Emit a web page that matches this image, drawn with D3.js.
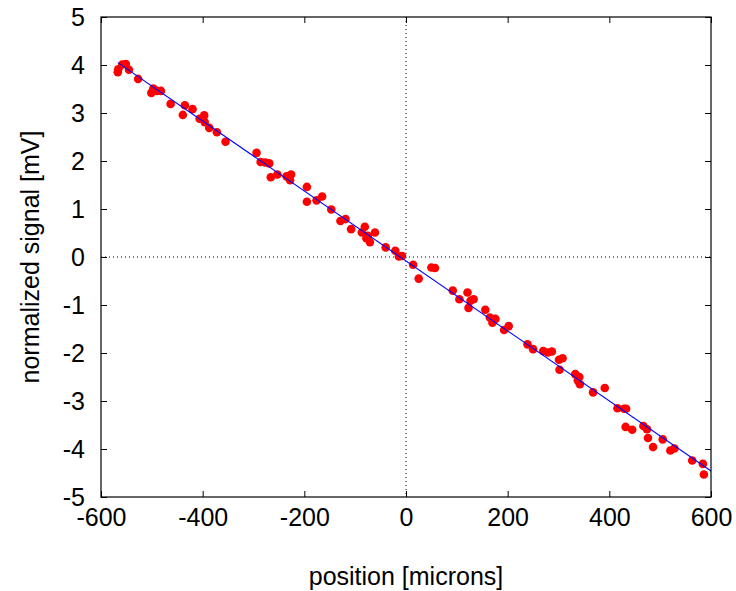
<!DOCTYPE html>
<html>
<head>
    <meta charset="utf-8">
    <title>normalized signal vs position</title>
    <style>
        body { margin: 0; background: #fff; }
        text { font-family: "Liberation Sans", Arial, sans-serif; fill: #000; }
    </style>
</head>
<body>
    <svg></svg>
    <script src="https://d3js.org/d3.v7.min.js"></script>
    <script>
        // measured points: position [microns]
        const posX = [
            -567, -566, -558, -551, -545, -527, -501, -497, -490, -482,
            -463, -439, -435, -420, -406, -397, -396, -387, -372, -355,
            -294, -286, -277, -269, -266, -253, -235, -226, -228, -195,
            -195, -176, -165, -147, -129, -119, -108, -87, -81, -75,
            -78, -71, -61, -40, -21, -14, -8, 14, 25, 50,
            57, 92, 105, 121, 127, 133, 123, 156, 165, 176,
            170, 193, 202, 239, 250, 270, 279, 287, 301, 308,
            302, 333, 341, 338, 342, 368, 391, 416, 429, 433,
            432, 445, 467, 474, 476, 486, 505, 520, 528, 563,
            584, 586
        ];
        // normalized signal [mV]
        const sigY = [
            3.85, 3.91, 4.01, 4.02, 3.90, 3.71, 3.42, 3.51, 3.46, 3.46,
            3.19, 2.96, 3.16, 3.08, 2.88, 2.95, 2.81, 2.69, 2.60, 2.40,
            2.17, 1.98, 1.97, 1.95, 1.66, 1.72, 1.68, 1.72, 1.60, 1.46,
            1.15, 1.18, 1.26, 0.99, 0.75, 0.79, 0.58, 0.51, 0.63, 0.44,
            0.39, 0.31, 0.51, 0.20, 0.13, 0.01, 0.02, -0.16, -0.45, -0.22,
            -0.23, -0.70, -0.88, -0.74, -0.91, -0.88, -1.06, -1.10, -1.26, -1.29,
            -1.37, -1.52, -1.44, -1.82, -1.92, -1.96, -1.99, -1.97, -2.14, -2.11,
            -2.35, -2.44, -2.50, -2.57, -2.65, -2.82, -2.73, -3.15, -3.16, -3.16,
            -3.54, -3.60, -3.52, -3.59, -3.77, -3.96, -3.80, -4.03, -3.99, -4.24,
            -4.31, -4.53
        ];
        // linear fit  y = slope * x + offset
        const fitSlope = -0.00729;
        const fitOffset = -0.083;
        const fitRange = [-567, 600];

        const xTicks = [-600, -400, -200, 0, 200, 400, 600];
        const yTicks = [-5, -4, -3, -2, -1, 0, 1, 2, 3, 4, 5];

        const width = 736;
        const height = 591;
        const margin = { top: 17, right: 25, bottom: 94, left: 101 };
        const innerWidth = width - margin.left - margin.right;
        const innerHeight = height - margin.top - margin.bottom;
        const fontSize = '25px';
        const fmt = d => String(d); // plain hyphen minus, like the original

        const svg = d3.select('svg').attr('width', width).attr('height', height);
        const g = svg.append('g')
            .attr('transform', `translate(${margin.left},${margin.top})`);

        const xScale = d3.scaleLinear().domain([-600, 600]).range([0, innerWidth]);
        const yScale = d3.scaleLinear().domain([-5, 5]).range([innerHeight, 0]);

        // zero axes, dotted
        g.append('line')
            .attr('x1', xScale(0)).attr('x2', xScale(0))
            .attr('y1', 0).attr('y2', innerHeight)
            .attr('stroke', '#000').attr('stroke-width', 1)
            .attr('stroke-dasharray', '1,3');
        g.append('line')
            .attr('x1', 0).attr('x2', innerWidth)
            .attr('y1', yScale(0)).attr('y2', yScale(0))
            .attr('stroke', '#000').attr('stroke-width', 1)
            .attr('stroke-dasharray', '1,3');

        // axes, ticks pointing inward and mirrored (gnuplot style)
        const tk = 6;
        g.append('g').attr('class', 'xaxis')
            .attr('transform', `translate(0,${innerHeight})`)
            .call(d3.axisBottom(xScale).tickValues(xTicks).tickFormat(fmt)
                .tickSizeInner(-tk).tickSizeOuter(0).tickPadding(11));
        g.append('g').attr('class', 'mirror')
            .call(d3.axisTop(xScale).tickValues(xTicks).tickSizeInner(-tk).tickSizeOuter(0));
        g.append('g').attr('class', 'yaxis')
            .call(d3.axisLeft(yScale).tickValues(yTicks).tickFormat(fmt)
                .tickSizeInner(-tk).tickSizeOuter(0).tickPadding(16));
        g.append('g').attr('class', 'mirror')
            .attr('transform', `translate(${innerWidth},0)`)
            .call(d3.axisRight(yScale).tickValues(yTicks).tickSizeInner(-tk).tickSizeOuter(0));

        g.selectAll('.domain').remove();
        g.selectAll('.mirror text').remove();
        g.selectAll('.tick line').attr('stroke', '#000');
        g.selectAll('.tick text')
            .style('font-family', '"Liberation Sans", Arial, sans-serif')
            .style('font-size', fontSize)
            .attr('fill', '#000');
        g.selectAll('.xaxis .tick text').attr('dy', '0.71em');

        // fit line
        const line = d3.line().x(d => xScale(d)).y(d => yScale(fitSlope * d + fitOffset));

        // data points
        g.selectAll('circle').data(posX).enter().append('circle')
            .attr('cx', d => xScale(d))
            .attr('cy', (d, i) => yScale(sigY[i]))
            .attr('r', 4.3)
            .attr('fill', '#ff0000');

        g.append('path')
            .datum(fitRange)
            .attr('d', line)
            .attr('fill', 'none')
            .attr('stroke', '#0000ff')
            .attr('stroke-width', 1.1);

        // border
        g.append('rect')
            .attr('width', innerWidth).attr('height', innerHeight)
            .attr('fill', 'none').attr('stroke', '#000').attr('stroke-width', 1.2);

        // axis labels
        svg.append('text')
            .attr('x', margin.left + innerWidth / 2)
            .attr('y', 585)
            .attr('text-anchor', 'middle')
            .style('font-size', fontSize)
            .text('position [microns]');
        svg.append('text')
            .attr('transform', `translate(39,${margin.top + innerHeight / 2}) rotate(-90)`)
            .attr('text-anchor', 'middle')
            .style('font-size', fontSize)
            .text('normalized signal [mV]');
    </script>
</body>
</html>
